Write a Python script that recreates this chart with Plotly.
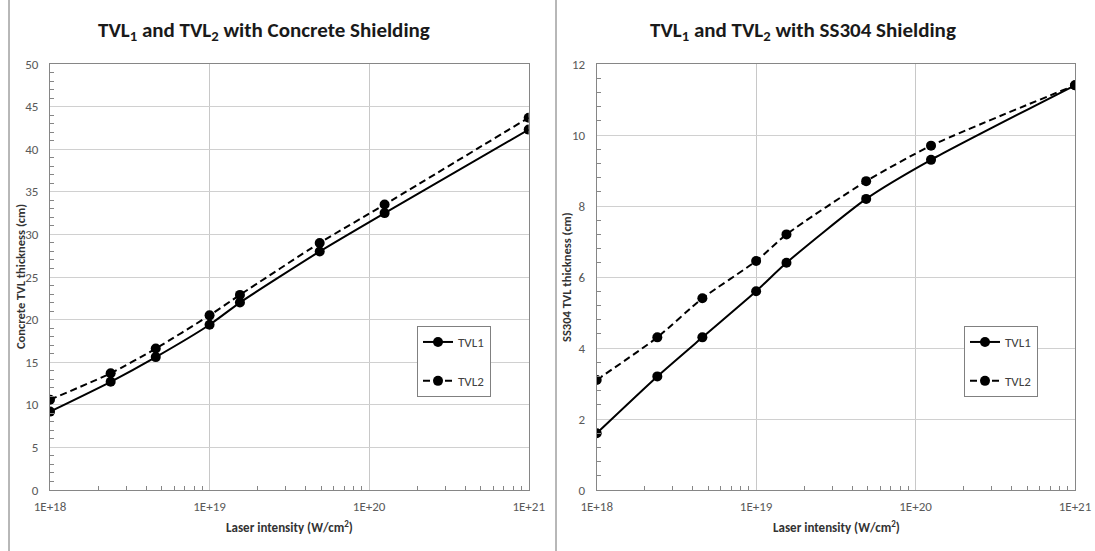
import plotly.graph_objects as go

# ---- data ----
intensity = [1e18, 2.4e18, 4.6e18, 1e19, 1.55e19, 4.9e19, 1.25e20, 1e21]
concrete_tvl1 = [9.2, 12.7, 15.6, 19.4, 22.0, 28.0, 32.5, 42.3]
concrete_tvl2 = [10.6, 13.7, 16.6, 20.5, 22.9, 29.0, 33.5, 43.7]
ss304_tvl1 = [1.6, 3.2, 4.3, 5.6, 6.4, 8.2, 9.3, 11.4]
ss304_tvl2 = [3.1, 4.3, 5.4, 6.45, 7.2, 8.7, 9.7, 11.4]
x_tickvals = [1e18, 1e19, 1e20, 1e21]
x_ticktext = ["1E+18", "1E+19", "1E+20", "1E+21"]

W, H = 1095, 551
FONT = "Carlito, Lato, 'Open Sans', sans-serif"

def px(x):
    return x / W

def py(y):
    return 1 - y / H

fig = go.Figure()

def add_pair(t1, t2, xa, ya, leg):
    fig.add_trace(go.Scatter(
        x=intensity, y=t1, name="TVL1", mode="lines+markers",
        line=dict(color="black", width=2, shape="spline", smoothing=0.6),
        marker=dict(symbol="circle", size=10, color="black"),
        xaxis=xa, yaxis=ya, legend=leg, legendgroup=leg + "a"))
    fig.add_trace(go.Scatter(
        x=intensity, y=t2, name="TVL2", mode="lines+markers",
        line=dict(color="black", width=2, dash="7px,4px", shape="spline", smoothing=0.6),
        marker=dict(symbol="circle", size=10, color="black"),
        xaxis=xa, yaxis=ya, legend=leg, legendgroup=leg + "b"))

add_pair(concrete_tvl1, concrete_tvl2, "x", "y", "legend")
add_pair(ss304_tvl1, ss304_tvl2, "x2", "y2", "legend2")

minor_x = [float(k) * 10.0 ** e for e in (18, 19, 20) for k in range(2, 10)]

xcommon = dict(
    type="log", range=[18, 21], tickvals=x_tickvals, ticktext=x_ticktext,
    showgrid=True, gridcolor="#c8c8c8", gridwidth=1,
    showline=True, linecolor="#868686", linewidth=1, mirror=True,
    ticks="", tickfont=dict(family=FONT, size=13, color="#595959"),
    minor=dict(tickvals=minor_x, ticks="inside", ticklen=4, tickcolor="#868686", showgrid=False),
    zeroline=False, fixedrange=True, automargin=False, ticklabelstandoff=4,
)
ycommon = dict(
    showgrid=True, gridcolor="#d0d0d0", gridwidth=1,
    showline=True, linecolor="#868686", linewidth=1, mirror=True,
    ticks="", tickfont=dict(family=FONT, size=13, color="#595959"),
    zeroline=False, ticklabelstandoff=8, fixedrange=True, automargin=False,
)

y0, y1 = py(490), py(64)
fig.update_layout(
    width=W, height=H, margin=dict(l=0, r=0, t=0, b=0, autoexpand=False),
    paper_bgcolor="white", plot_bgcolor="white",
    font=dict(family=FONT, color="#333333"),
    xaxis=dict(domain=[px(50), px(528.7)], anchor="y", **xcommon),
    yaxis=dict(domain=[y0, y1], anchor="x", range=[0, 50], dtick=5,
               minor=dict(dtick=1, ticks="inside", ticklen=4, tickcolor="#868686", showgrid=False),
               **ycommon),
    xaxis2=dict(domain=[px(596.7), px(1075)], anchor="y2", **xcommon),
    yaxis2=dict(domain=[y0, y1], anchor="x2", range=[0, 12], dtick=2,
                minor=dict(dtick=0.4, ticks="inside", ticklen=4, tickcolor="#868686", showgrid=False),
                **ycommon),
    legend=dict(x=px(417), y=py(326), xanchor="left", yanchor="top",
                bordercolor="#808080", borderwidth=1, bgcolor="white",
                font=dict(family=FONT, size=13, color="#404040"),
                tracegroupgap=19, itemwidth=30),
    legend2=dict(x=px(964), y=py(326), xanchor="left", yanchor="top",
                 bordercolor="#808080", borderwidth=1, bgcolor="white",
                 font=dict(family=FONT, size=13, color="#404040"),
                 tracegroupgap=19, itemwidth=30),
    showlegend=True,
)

ann = [
    dict(text="<b>TVL<sub>1</sub> and TVL<sub>2</sub> with Concrete Shielding</b>",
         x=px(264), y=py(31), font=dict(size=21, color="#1a1a1a")),
    dict(text="<b>TVL<sub>1</sub> and TVL<sub>2</sub> with SS304 Shielding</b>",
         x=px(803), y=py(31), font=dict(size=21, color="#1a1a1a")),
    dict(text="<b>Laser intensity (W/cm<sup>2</sup>)</b>",
         x=px(289), y=py(526), font=dict(size=13, color="#333333")),
    dict(text="<b>Laser intensity (W/cm<sup>2</sup>)</b>",
         x=px(836), y=py(526), font=dict(size=13, color="#333333")),
    dict(text="<b>Concrete TVL thickness (cm)</b>", textangle=-90,
         x=px(20), y=py(277), font=dict(size=12.5, color="#333333")),
    dict(text="<b>SS304 TVL thickness (cm)</b>", textangle=-90,
         x=px(566), y=py(277), font=dict(size=12.5, color="#333333")),
]
for a in ann:
    a.update(xref="paper", yref="paper", showarrow=False, xanchor="center", yanchor="middle")
    a["font"]["family"] = FONT
fig.update_layout(annotations=ann)

for xv in (9, 556):
    fig.add_shape(type="line", xref="paper", yref="paper",
                  x0=px(xv), x1=px(xv), y0=0, y1=1,
                  line=dict(color="#707070", width=1))

fig.write_html("out.html", config={"displayModeBar": False},
               post_script="document.body.style.margin='0';document.body.style.overflow='hidden';")
